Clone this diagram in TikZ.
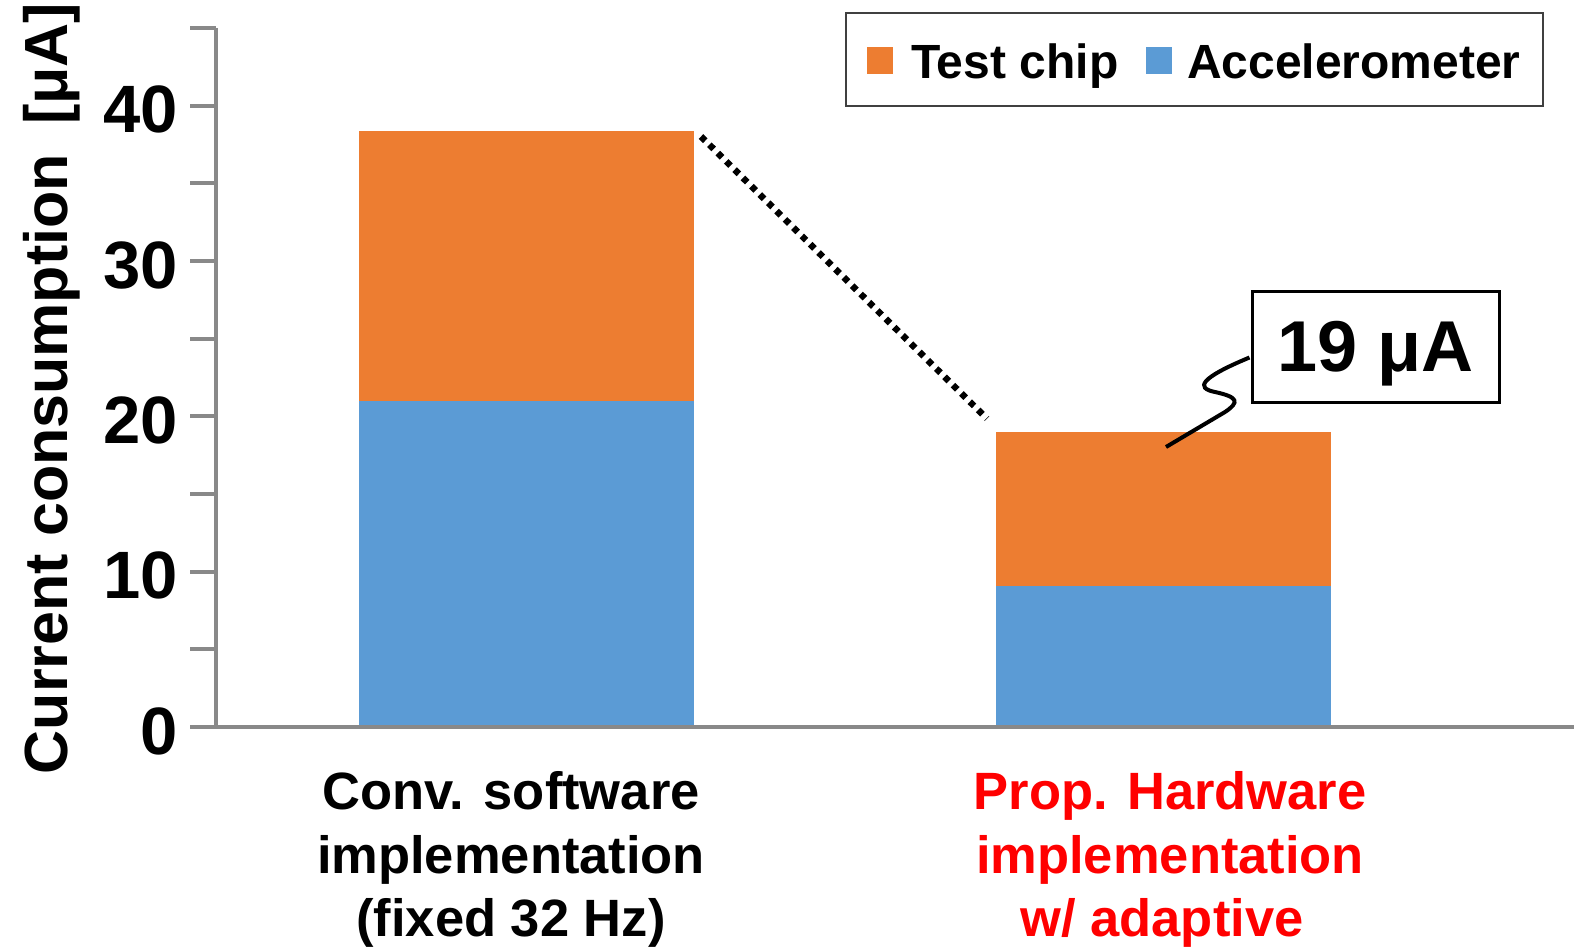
\documentclass[tikz,border=0pt]{standalone}
\usepackage{fontspec}
\setmainfont{Liberation Sans}
\usetikzlibrary{calc}
\definecolor{barorange}{HTML}{ED7D31}
\definecolor{barblue}{HTML}{5B9BD5}
\definecolor{axisgray}{HTML}{898989}
\definecolor{propred}{HTML}{FF0000}
\definecolor{legframe}{HTML}{404040}
\begin{document}
\begin{tikzpicture}[x=1pt,y=-1pt,
  barbox/.style={inner sep=0pt, outer sep=0pt, anchor=south west, minimum width=335pt},
  ticklab/.style={anchor=east, inner sep=0pt, font=\fontsize{67}{67}\selectfont\bfseries},
  catlab/.style={anchor=base, inner sep=0pt, font=\fontsize{52.5}{63}\selectfont\bfseries},
  leglab/.style={anchor=base west, inner sep=0pt, font=\fontsize{48}{48}\selectfont\bfseries},
  legsq/.style={inner sep=0pt, minimum width=26pt, minimum height=27pt},
  axisline/.style={draw=axisgray, line width=4pt},
  dotline/.style={line width=6.5pt, dash pattern=on 6pt off 5.8pt},
  calloutline/.style={line width=4pt}]
\useasboundingbox (0,0) rectangle (1574,950);
% bars
\node[barbox, fill=barblue, minimum height=326pt] (b1b) at (359,727) {};
\node[barbox, fill=barorange, minimum height=270.5pt] (b1o) at (359,401) {};
\node[barbox, fill=barblue, minimum height=141pt] (b2b) at (996,727) {};
\node[barbox, fill=barorange, minimum height=154.3pt] (b2o) at (996,586) {};
% axes
\coordinate (ytop) at (216,28);
\coordinate (origin) at (216,727);
\coordinate (xend) at (1574,727);
\coordinate (xstart) at (190,727);
\draw[axisline] (ytop) -- (origin);
\draw[axisline] (xstart) -- (xend);
\foreach \v in {5,10,...,45} {
  \draw[axisline] (190,{727-15.53*\v}) -- (216,{727-15.53*\v});
}
\foreach \v in {0,10,20,30,40} {
  \node[ticklab] (t\v) at (178,{731-15.53*\v}) {\v};
}
% y label
\node[rotate=90, anchor=base, inner sep=0pt, font=\fontsize{61}{61}\selectfont\bfseries] (ylab) at (67,388.5) {Current consumption\hspace{12pt} [μA]};
% dotted connector
\draw[dotline] ($(b1o.north east)+(7,6)$) -- ($(b2o.north west)+(-9,-13)$);
% legend
\node[draw=legframe, line width=2pt, minimum width=697pt, minimum height=93pt, inner sep=0pt] (legend) at (1194.5,59.5) {};
\node[legsq, fill=barorange] (sqo) at (880,60.5) {};
\node[leglab] (lto) at (911,78) {Test chip};
\node[legsq, fill=barblue] (sqb) at (1159,60.5) {};
\node[leglab] (ltb) at (1187,78) {Accelerometer};
% callout
\node[draw, line width=3pt, minimum width=247pt, minimum height=111pt, inner sep=0pt, text depth=0pt, font=\fontsize{72}{72}\selectfont\bfseries] (callout) at (1375.5,346.5) {19 μA};
\coordinate (cs) at ($(callout.west)+(-1,11)$);
\coordinate (ce) at (1166,447);
\draw[calloutline] (cs) .. controls (1200,378) and (1195,388) .. (1215,392) .. controls (1238,397) and (1240,402) .. (1225,412) -- (ce);
% category labels
\node[catlab] (c1a) at (511,809) {Conv. software};
\node[catlab] (c1b) at (511,873) {implementation};
\node[catlab] (c1c) at (511,936) {(fixed 32 Hz)};
\node[catlab, text=propred] (c2a) at (1170,809) {Prop. Hardware};
\node[catlab, text=propred] (c2b) at (1170,873) {implementation};
\node[catlab, text=propred] (c2c) at (1162,936) {w/ adaptive};
\end{tikzpicture}
\end{document}
